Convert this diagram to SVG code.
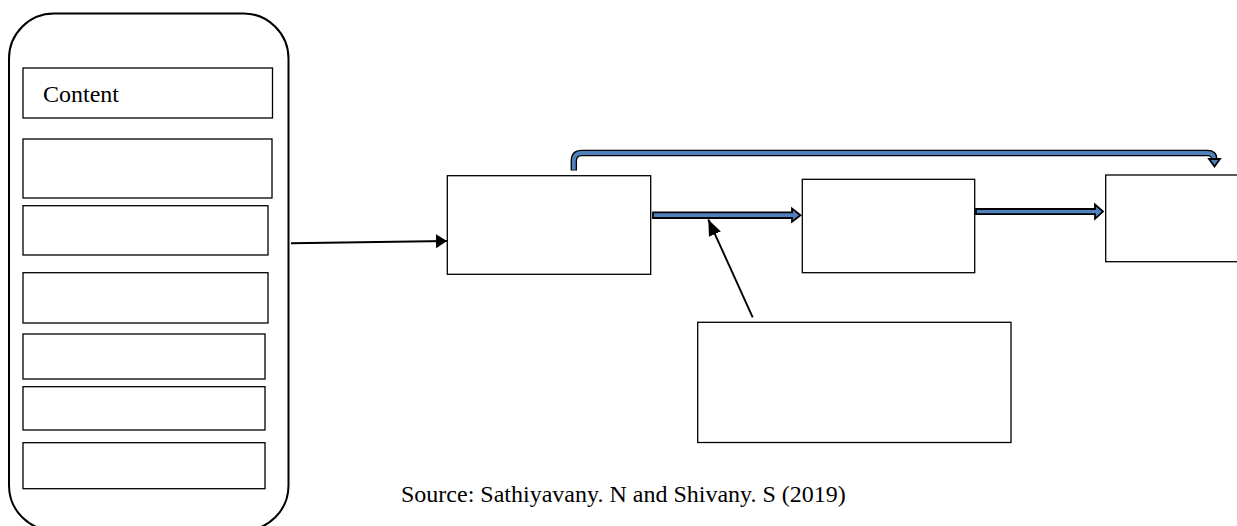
<svg xmlns="http://www.w3.org/2000/svg" width="1237" height="526" viewBox="0 0 1237 526">
<style>
.box{fill:#fff;stroke:#000;stroke-width:1.3}
.txt{font-family:"Liberation Serif","Times New Roman",serif;font-size:24px;fill:#000}
.line{fill:none;stroke:#000;stroke-width:1.9}
.blk{fill:#4f81bd;stroke:#000;stroke-width:1.8;stroke-linejoin:miter}
</style>
<defs>
<marker id="headS" markerUnits="userSpaceOnUse" markerWidth="14" markerHeight="16" refX="11" refY="7" orient="auto">
<path d="M0,0 L11,7 L0,14 Z" fill="#000"/>
</marker>
<marker id="headL" markerUnits="userSpaceOnUse" markerWidth="18" markerHeight="14" refX="16" refY="6.5" orient="auto">
<path d="M0,0 L16,6.5 L0,13 Z" fill="#000"/>
</marker>
</defs>
<rect width="1237" height="526" fill="#fff"/>

<g id="container">
<rect x="9" y="13.5" width="279.5" height="517" rx="45" ry="45" fill="#fff" stroke="#000" stroke-width="2"/>
</g>
<g id="content">
<rect class="box" x="23" y="68" width="249.5" height="50" stroke-width="2"/>
<text class="txt" x="43" y="101.5">Content</text>
</g>
<g id="item2"><rect class="box" x="23" y="139" width="249" height="59"/></g>
<g id="item3"><rect class="box" x="23" y="205.7" width="245" height="49.3"/></g>
<g id="item4"><rect class="box" x="23" y="272.7" width="245" height="50.3"/></g>
<g id="item5"><rect class="box" x="23" y="334" width="242" height="45"/></g>
<g id="item6"><rect class="box" x="23" y="386.7" width="242" height="43.3"/></g>
<g id="item7"><rect class="box" x="23" y="442.7" width="242" height="46"/></g>

<g id="nodeA"><rect class="box" x="447.3" y="175.7" width="203.4" height="98.6"/></g>
<g id="nodeB"><rect class="box" x="802.3" y="179.3" width="172.4" height="93.4"/></g>
<g id="nodeC"><rect class="box" x="1105.7" y="175" width="134" height="86.7"/></g>
<g id="nodeD"><rect class="box" x="697.7" y="322.3" width="313.3" height="120.2"/></g>

<g id="connectors">
<line class="line" x1="291" y1="243.3" x2="447" y2="241" marker-end="url(#headS)"/>
<line class="line" x1="752.7" y1="317.3" x2="708.3" y2="219.5" marker-end="url(#headL)"/>
<path class="blk" d="M653,212.3 L792,212.3 L792,208.6 L800.5,215.2 L792,221.6 L792,218 L653,218 Z"/>
<path class="blk" d="M976,209 L1095,209 L1095,204.5 L1103,211.6 L1095,218.8 L1095,214.2 L976,214.2 Z"/>
<path d="M573.8,170.5 L573.8,161 Q573.8,153 581.8,153 L1207,153 Q1214.5,153 1214.5,159.5" fill="none" stroke="#000" stroke-width="6.4"/>
<path d="M573.8,169.7 L573.8,161 Q573.8,153 581.8,153 L1207,153 Q1214.5,153 1214.5,160.5" fill="none" stroke="#4f81bd" stroke-width="3.8"/>
<path class="blk" d="M1209,159 L1220,159 L1214.5,166.5 Z" stroke-width="1.3"/>
</g>

<text class="txt" x="401" y="501.5">Source: Sathiyavany. N and Shivany. S (2019)</text>
</svg>
